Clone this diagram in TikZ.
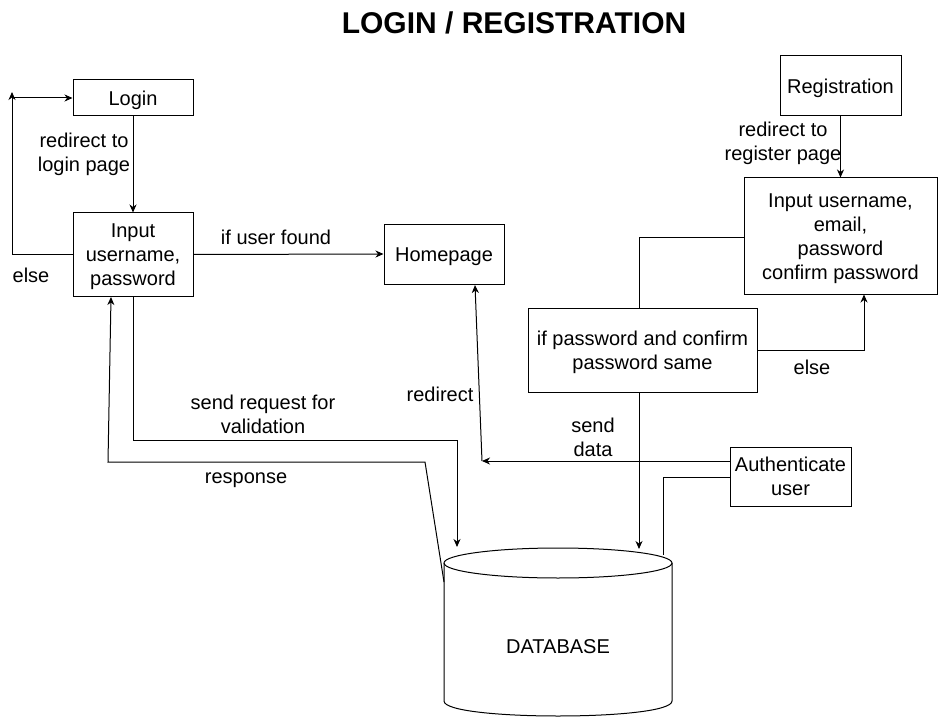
\documentclass[tikz,border=0pt]{standalone}
\usepackage{fontspec}
\setmainfont{Liberation Sans}
\usetikzlibrary{arrows.meta}
\newcommand\dstr{\rule[-4.85pt]{0pt}{24pt}}
\begin{document}
\begin{tikzpicture}[x=1pt,y=-1pt,
  every node/.style={font=\fontsize{20}{24}\selectfont, align=center},
  box/.style={draw, line width=1pt, inner sep=0pt},
  lbl/.style={inner sep=0pt},
  arr/.style={line width=1pt, -{Stealth[length=8pt,width=7pt,inset=2.5pt]}},
  ln/.style={line width=1pt}]
\useasboundingbox[fill=white] (0,0) rectangle (942,722);
% title
\node[lbl, font=\fontsize{30}{34}\selectfont\bfseries] (title) at (514,23) {LOGIN / REGISTRATION};
% boxes
\node[box, minimum width=120pt, minimum height=36pt] (login) at (133,98) {\dstr Login};
\node[box, minimum width=120pt, minimum height=83pt] (inp) at (133,254.5) {\dstr Input\\\dstr username,\\\dstr password};
\node[box, minimum width=120pt, minimum height=60pt] (home) at (444,254) {\dstr Homepage};
\node[box, minimum width=121pt, minimum height=60pt] (reg) at (840.5,86) {\dstr Registration};
\node[box, minimum width=193pt, minimum height=116pt] (reginp) at (840.5,236) {\dstr Input username,\\\dstr email,\\\dstr password\\\dstr confirm password};
\node[box, minimum width=229pt, minimum height=84pt] (pw) at (642.5,350) {\dstr if password and confirm\\\dstr password same};
\node[box, minimum width=121pt, minimum height=59pt] (auth) at (790.5,476.5) {\dstr Authenticate\\\dstr user};
% database cylinder
\draw[ln] (444,563) -- (444,701) .. controls (444,721) and (672,721) .. (672,701) -- (672,563);
\draw[ln] (558,563) ellipse [x radius=114, y radius=15];
\node[lbl] (db) at (558,646) {\dstr DATABASE};
% coordinates
\coordinate (elseL) at (12,254.5);
\coordinate (loopTop) at (12,92);
\coordinate (loopL) at (12,98);
\coordinate (srA) at (133,440);
\coordinate (srB) at (457,440);
\coordinate (dbIn) at (457,547);
\coordinate (dbL) at (444,582);
\coordinate (rA) at (425,462);
\coordinate (rB) at (108,462);
\coordinate (inpB) at (111,297);
\coordinate (authA) at (730,461);
\coordinate (rd) at (482,461);
\coordinate (homeB) at (475,285);
\coordinate (authB) at (730,477);
\coordinate (aC) at (663,477);
\coordinate (aD) at (663,555);
\coordinate (riL) at (744,237);
\coordinate (riC) at (639,237);
\coordinate (pwT) at (639,308);
\coordinate (pwB) at (639,392);
\coordinate (dbT) at (639,549);
\coordinate (pwR) at (757,350);
\coordinate (elC) at (864,350);
\coordinate (riB) at (864,294.5);
% connectors
\draw[arr] (login.south) -- (inp.north);
\draw[arr] (inp.west) -- (elseL) -- (loopTop);
\draw[arr] (loopL) -- (login.west);
\draw[arr] (inp.east) -- (home.west);
\draw[arr] (inp.south) -- (srA) -- (srB) -- (dbIn);
\draw[arr] (dbL) -- (rA) -- (rB) -- (inpB);
\draw[arr] (authA) -- (rd);
\draw[arr] (rd) -- (homeB);
\draw[ln] (authB) -- (aC) -- (aD);
\draw[arr] (reg.south) -- (reginp.north);
\draw[ln] (riL) -- (riC) -- (pwT);
\draw[arr] (pwB) -- (dbT);
\draw[arr] (pwR) -- (elC) -- (riB);
% labels
\node[lbl] (l1) at (84,152.5) {\dstr redirect to\\\dstr login page};
\node[lbl] (l2) at (31,275) {\dstr else};
\node[lbl] (l3) at (276,237) {\dstr if user found};
\node[lbl] (l4) at (263,414) {\dstr send request for\\\dstr validation};
\node[lbl] (l5) at (246,476) {\dstr response};
\node[lbl] (l6) at (440,394.5) {\dstr redirect};
\node[lbl] (l7) at (593,437) {\dstr send\\\dstr data};
\node[lbl] (l8) at (783,141) {\dstr redirect to\\\dstr register page};
\node[lbl] (l9) at (812,367) {\dstr else};
\end{tikzpicture}
\end{document}
